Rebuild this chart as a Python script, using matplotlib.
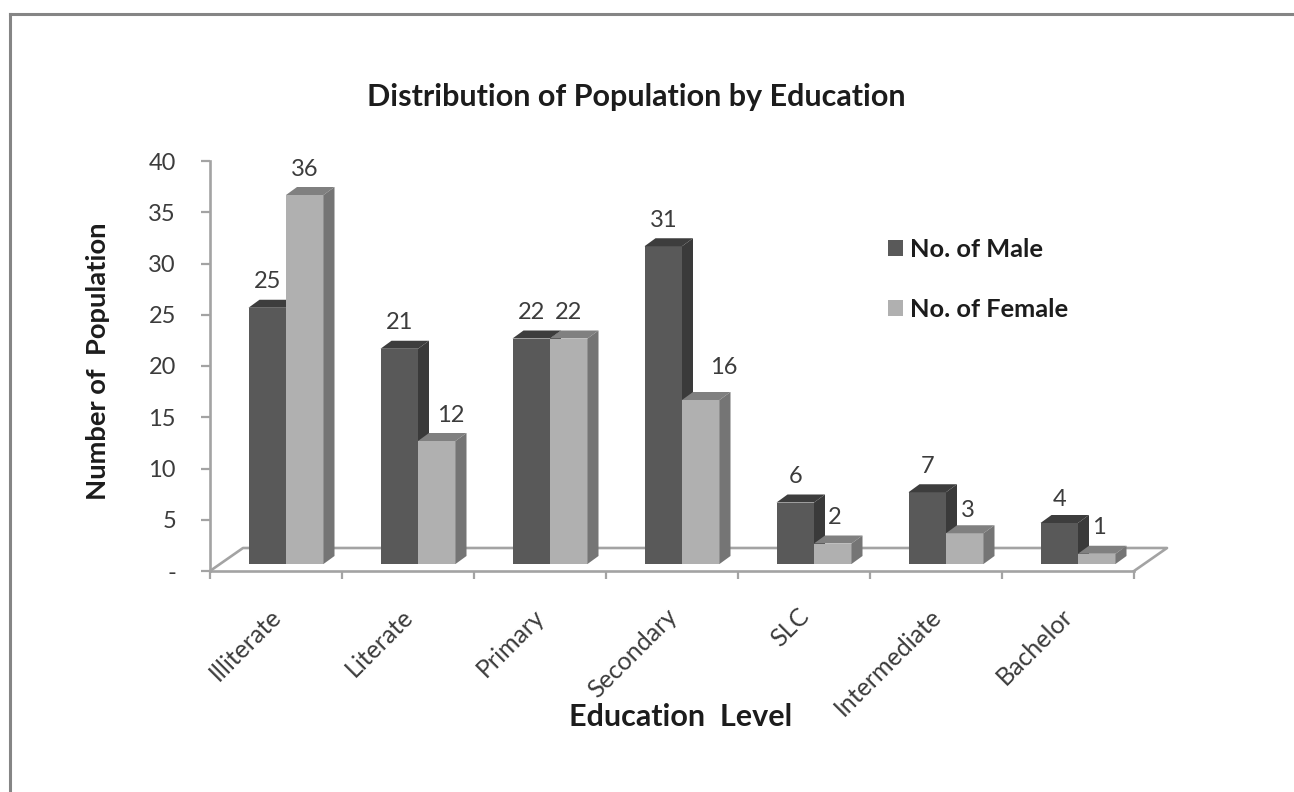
import matplotlib
matplotlib.use("Agg")
import matplotlib.pyplot as plt
from matplotlib.lines import Line2D
from matplotlib.patches import Patch, Polygon

plt.rcParams["font.family"] = ["Lato", "DejaVu Sans"]

CATEGORIES = ["Illiterate", "Literate", "Primary", "Secondary", "SLC", "Intermediate", "Bachelor"]
MALE = [25, 21, 22, 31, 6, 7, 4]
FEMALE = [36, 12, 22, 16, 2, 3, 1]
Y_TICKS = [0, 5, 10, 15, 20, 25, 30, 35, 40]
Y_TICK_LABELS = ["-", "5", "10", "15", "20", "25", "30", "35", "40"]

W, H = 1294, 792
# plot box in pixels
X0, X1, Y0, Y1 = 210, 1134, 571, 161
PX_X = (X1 - X0) / len(CATEGORIES)
PX_Y = (Y0 - Y1) / 40

BAR_W = 37.5 / PX_X
BASE_DX, BASE_DY = 10 / PX_X, 7 / PX_Y      # bars stand part way back on the floor
DEPTH_X, DEPTH_Y = 11 / PX_X, 8 / PX_Y      # depth of one bar
FLOOR_X, FLOOR_Y = 33 / PX_X, 23 / PX_Y     # depth of the floor
CAT_SHIFT = 7 / PX_X                        # rotated labels end left of the group centre

MALE_COLS = ("#595959", "#3d3d3d", "#3a3a3a")      # front, top, side
FEMALE_COLS = ("#b0b0b0", "#808080", "#757575")
AXIS_COL = "#a3a3a3"
TEXT_COL = "#3c3c3c"
DARK_COL = "#1c1c1c"

# nudges (pixels) for labels that would sit on a taller neighbour
LABEL_DX = {(1, 1): 14, (3, 1): 23, (4, 1): 2, (5, 1): 3, (6, 1): 2}
LABEL_DY = {(3, 1): 33, (5, 1): 23, (6, 0): 23}


def draw_bar(ax, left, val, cols):
    right = left + BAR_W
    base = BASE_DY
    top = val + BASE_DY
    ax.bar(left, val, BAR_W, bottom=base, align="edge", color=cols[0], linewidth=0)
    ax.add_patch(Polygon([(left, top), (right, top),
                          (right + DEPTH_X, top + DEPTH_Y), (left + DEPTH_X, top + DEPTH_Y)],
                         closed=True, facecolor=cols[1], linewidth=0))
    ax.add_patch(Polygon([(right, base), (right + DEPTH_X, base + DEPTH_Y),
                          (right + DEPTH_X, top + DEPTH_Y), (right, top)],
                         closed=True, facecolor=cols[2], linewidth=0))


def main():
    fig = plt.figure(figsize=(W / 100, H / 100), dpi=100, facecolor="white")
    ax = fig.add_axes([X0 / W, (H - Y0) / H, (X1 - X0) / W, (Y0 - Y1) / H])
    ax.set_xlim(0, len(CATEGORIES))
    ax.set_ylim(0, 40)

    # page frame on the top and left only
    fig.add_artist(Line2D([10 / W, 1], [1 - 14 / H, 1 - 14 / H], color="#858585", lw=2.2))
    fig.add_artist(Line2D([10 / W, 10 / W], [0, 1 - 14 / H], color="#858585", lw=2.2))

    for name in ("top", "right"):
        ax.spines[name].set_visible(False)
    for name in ("left", "bottom"):
        ax.spines[name].set_color(AXIS_COL)
        ax.spines[name].set_linewidth(1.9)

    # floor outline
    n = len(CATEGORIES)
    ax.plot([0, FLOOR_X, n + FLOOR_X, n], [0, FLOOR_Y, FLOOR_Y, 0],
            color=AXIS_COL, lw=1.9, clip_on=False, zorder=0.5)

    for i in range(n):
        mid = i + 0.5 + BASE_DX
        draw_bar(ax, mid - BAR_W, MALE[i], MALE_COLS)
        draw_bar(ax, mid, FEMALE[i], FEMALE_COLS)

    for i in range(n):
        for s, vals in enumerate((MALE, FEMALE)):
            xc = i + 0.5 + BASE_DX + (s - 0.5) * BAR_W
            dx = LABEL_DX.get((i, s), 0)
            dy = LABEL_DY.get((i, s), 26)
            ax.annotate(str(vals[i]), (xc, vals[i] + BASE_DY), xytext=(dx * 0.72, dy * 0.72),
                        textcoords="offset points", ha="center", va="center",
                        fontsize=17, color=TEXT_COL, annotation_clip=False)

    ax.set_yticks(Y_TICKS, Y_TICK_LABELS)
    ax.tick_params(axis="y", length=6.5, width=1.6, color=AXIS_COL, pad=18,
                   labelsize=17, labelcolor=TEXT_COL)
    ax.set_xticks(range(n + 1), [""] * (n + 1))
    ax.tick_params(axis="x", which="major", length=5.5, width=1.6, color=AXIS_COL)
    ax.set_xticks([i + 0.5 - CAT_SHIFT for i in range(n)], CATEGORIES, minor=True)
    ax.tick_params(axis="x", which="minor", length=0, pad=24, labelsize=18, labelcolor=TEXT_COL)
    for lab in ax.get_xticklabels(minor=True):
        lab.set_rotation(45)
        lab.set_ha("right")
        lab.set_rotation_mode("anchor")

    fig.text(636 / W, 1 - 97 / H, "Distribution of Population by Education",
             ha="center", va="center", fontsize=22, fontweight="bold", color=DARK_COL)
    fig.text(681 / W, 1 - 717 / H, "Education  Level",
             ha="center", va="center", fontsize=22, fontweight="bold", color=DARK_COL)
    fig.text(98 / W, 1 - 361 / H, "Number of  Population", rotation=90,
             ha="center", va="center", fontsize=19.7, fontweight="bold", color=DARK_COL)

    handles = [Patch(facecolor=MALE_COLS[0], label="No. of Male"),
               Patch(facecolor=FEMALE_COLS[0], label="No. of Female")]
    fig.legend(handles=handles, loc="upper left", bbox_to_anchor=(888 / W, 1 - 238 / H),
               frameon=False, prop={"weight": "bold", "size": 18.3},
               handlelength=0.6, handleheight=0.6, handletextpad=0.27, labelspacing=1.47,
               labelcolor=DARK_COL, borderpad=0, borderaxespad=0)

    fig.savefig("out.png", dpi=100)
    plt.close(fig)


if __name__ == "__main__":
    main()
